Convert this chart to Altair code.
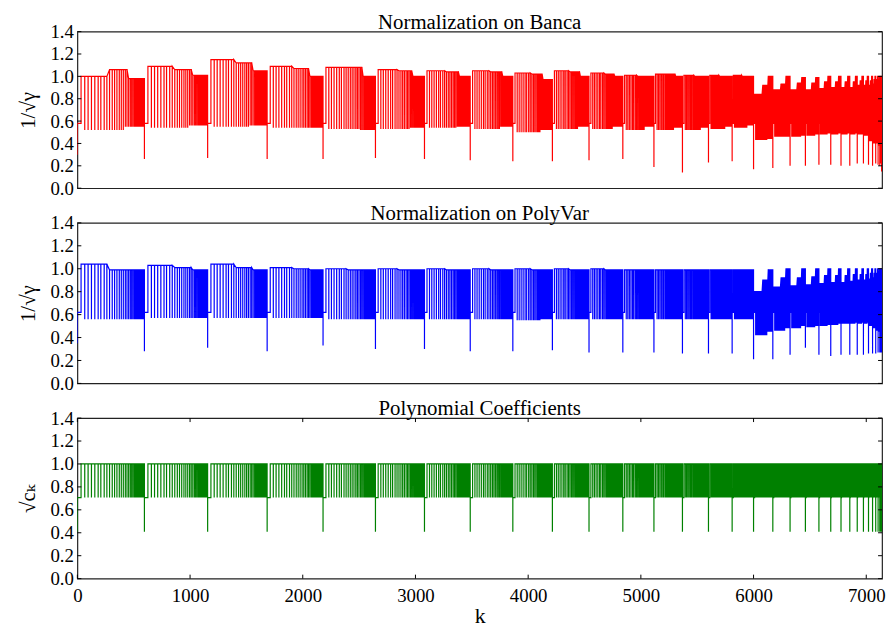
import altair as alt
import pandas as pd

FONT = "Liberation Serif, Times New Roman, DejaVu Serif, serif"
K_MAX = 7140

# k positions where each block starts (deep dips)
block_start = [0, 595, 1156, 1684, 2180, 2645, 3080, 3486, 3864, 4215, 4540,
               4840, 5116, 5369, 5600, 5810, 6000, 6171, 6324, 6460, 6580,
               6685, 6776, 6854, 6920, 6975, 7020, 7056, 7084, 7105, 7120,
               7130, 7136]

# relative positions of the downward spikes inside a block (read from block 1)
run_frac = 0.055
spike_frac = [0.11, 0.16, 0.21, 0.26, 0.31, 0.35, 0.40, 0.44, 0.48, 0.52,
              0.555, 0.59, 0.625, 0.655, 0.685, 0.715, 0.74, 0.765, 0.79,
              0.81, 0.83, 0.85, 0.865, 0.88, 0.895, 0.905, 0.915, 0.925,
              0.935, 0.945, 0.955, 0.965, 0.975, 0.985, 0.993]

# ---- Banca (red) ----
red_dip = [0.30, 0.26, 0.27, 0.26, 0.26, 0.27, 0.26, 0.25, 0.24, 0.24, 0.25,
           0.26, 0.19, 0.14, 0.23, 0.24, 0.17, 0.18, 0.20, 0.20, 0.21, 0.21,
           0.20, 0.20, 0.22, 0.22, 0.21, 0.20, 0.22, 0.21, 0.20, 0.22, 0.15]
red_top_early = [1.00, 1.09, 1.15, 1.09, 1.08, 1.06, 1.05, 1.05, 1.03, 1.05,
                 1.03, 1.01, 1.02, 1.01, 1.01, 1.01, 0.84, 0.88, 0.88, 0.88,
                 0.89, 0.90, 0.90, 0.90, 0.92, 0.92, 0.92, 0.93, 0.93, 0.94,
                 0.94, 0.95, 0.95]
red_top_mid = [1.06, 1.06, 1.12, 1.07, 1.08, 1.05, 1.04, 1.04, 1.02, 1.04,
               1.02, 1.00, 1.02, 1.00, 1.00, 1.00, 0.92, 0.93, 0.94, 0.94,
               0.95, 0.95, 0.95, 0.95, 0.96, 0.96, 0.96, 0.97, 0.97, 0.97,
               0.97, 0.97, 0.97]
red_top_late = [0.98, 1.01, 1.05, 1.00, 1.00, 1.00, 1.00, 1.00, 0.97, 1.00,
                1.00, 1.00, 1.00, 1.00, 1.00, 1.00, 1.00, 1.00, 0.99, 0.99,
                1.00, 1.00, 1.00, 1.00, 1.00, 1.00, 1.00, 1.00, 1.00, 1.00,
                1.00, 1.00, 1.00]
red_low_sparse = [0.52, 0.54, 0.55, 0.54, 0.53, 0.53, 0.54, 0.53, 0.50, 0.53,
                  0.53, 0.52, 0.52, 0.52, 0.53, 0.54, 0.43, 0.46, 0.46, 0.47,
                  0.48, 0.48, 0.48, 0.48, 0.48, 0.47, 0.42, 0.40, 0.40, 0.38,
                  0.38, 0.36, 0.35]
red_low_dense = [0.55, 0.56, 0.56, 0.54, 0.52, 0.54, 0.55, 0.55, 0.52, 0.55,
                 0.55, 0.55, 0.54, 0.54, 0.55, 0.56, 0.44, 0.46, 0.47, 0.48,
                 0.49, 0.49, 0.49, 0.49, 0.48, 0.47, 0.42, 0.40, 0.40, 0.38,
                 0.38, 0.36, 0.35]
red_run = 0.58
red_band = 0.14

# ---- PolyVar (blue) ----
blue_dip = [0.35, 0.28, 0.31, 0.28, 0.33, 0.30, 0.30, 0.28, 0.28, 0.29, 0.27,
            0.27, 0.27, 0.26, 0.26, 0.26, 0.21, 0.21, 0.25, 0.31, 0.25, 0.24,
            0.25, 0.25, 0.25, 0.25, 0.26, 0.26, 0.26, 0.27, 0.27, 0.27, 0.27]
blue_top_early = [1.04, 1.03, 1.04, 1.01, 1.00, 1.00, 1.00, 1.00, 1.00, 1.00,
                  1.00, 0.99, 0.99, 0.99, 0.99, 0.99, 0.80, 0.84, 0.85, 0.86,
                  0.87, 0.88, 0.88, 0.89, 0.90, 0.90, 0.91, 0.92, 0.92, 0.93,
                  0.93, 0.94, 0.94]
blue_top_mid = [0.99, 1.01, 1.01, 1.00, 0.99, 0.99, 0.99, 0.99, 0.99, 0.99,
                0.99, 0.99, 0.99, 0.99, 0.99, 0.99, 0.90, 0.92, 0.92, 0.93,
                0.94, 0.94, 0.94, 0.95, 0.95, 0.95, 0.96, 0.96, 0.96, 0.97,
                0.97, 0.97, 0.97]
blue_top_late = [0.99, 0.99, 0.99, 0.99, 0.99, 0.99, 0.99, 0.99, 0.99, 0.99,
                 0.99, 0.99, 0.99, 0.99, 0.99, 0.99, 0.99, 1.00, 1.00, 1.00,
                 1.00, 1.00, 1.00, 1.00, 1.00, 1.00, 1.00, 1.00, 1.00, 1.00,
                 1.00, 1.00, 1.00]
blue_low_sparse = [0.56, 0.57, 0.57, 0.57, 0.56, 0.56, 0.56, 0.56, 0.55, 0.56,
                   0.56, 0.56, 0.56, 0.56, 0.56, 0.56, 0.42, 0.46, 0.48, 0.49,
                   0.50, 0.51, 0.52, 0.52, 0.52, 0.52, 0.50, 0.48, 0.46, 0.45,
                   0.45, 0.44, 0.44]
blue_low_dense = [0.56, 0.57, 0.57, 0.57, 0.56, 0.56, 0.56, 0.56, 0.56, 0.56,
                  0.56, 0.56, 0.56, 0.56, 0.56, 0.56, 0.45, 0.48, 0.50, 0.50,
                  0.51, 0.52, 0.52, 0.53, 0.53, 0.53, 0.50, 0.48, 0.46, 0.45,
                  0.45, 0.44, 0.44]
blue_run = 0.62
blue_band = 0.08

# ---- Polynomial coefficients (green) ----
green_dip = [0.408] * len(block_start)
green_top = [1.0] * len(block_start)
green_low = [0.707] * len(block_start)
green_run = 0.707

y_ticks = [0.0, 0.2, 0.4, 0.6, 0.8, 1.0, 1.2, 1.4]
x_ticks = [0, 1000, 2000, 3000, 4000, 5000, 6000, 7000]

W = 812
SEG_EDGES = [0.45, 0.75]
D = 0.3


def build(dip, top_a, top_b, top_c, low_a, low_c, run, band_w):
    pts, band = [], []
    n = 0
    nb = 0
    for b, s in enumerate(block_start):
        e = block_start[b + 1] if b + 1 < len(block_start) else K_MAX
        size = e - s
        r = s + run_frac * size
        tops = [top_a[b], top_b[b], top_c[b]]
        pts.append((n, s, dip[b])); n += 1
        pts.append((n, s + D * 0.5, run)); n += 1
        pts.append((n, r, run)); n += 1
        pts.append((n, r + D * 0.5, tops[0])); n += 1
        for f in spike_frac:
            t = tops[0] if f < SEG_EDGES[0] else (tops[1] if f < SEG_EDGES[1] else tops[2])
            lo = low_a[b] if f < 0.7 else low_c[b]
            p = s + f * size
            pts.append((n, p - D, t)); n += 1
            pts.append((n, p, lo)); n += 1
            pts.append((n, p + D, t)); n += 1
        pts.append((n, e - D, tops[2])); n += 1
        if band_w > 0:
            edges = [r, s + SEG_EDGES[0] * size, s + SEG_EDGES[1] * size, e]
            for j in range(3):
                band.append((nb, b, edges[j], tops[j], tops[j] - band_w)); nb += 1
                band.append((nb, b, edges[j + 1], tops[j], tops[j] - band_w)); nb += 1
    line_df = pd.DataFrame(pts, columns=["i", "k", "y"])
    band_df = pd.DataFrame(band, columns=["i", "blk", "k", "y", "y_lo"])
    return line_df, band_df


xscale = alt.Scale(domain=[0, K_MAX], nice=False, zero=False)
yscale = alt.Scale(domain=[0, 1.4], nice=False, zero=False)


def panel(title, ytitle, color, line_df, band_df, bottom, H):
    if bottom:
        xaxis = alt.Axis(values=x_ticks, format="d", ticks=False, domain=False,
                         grid=False, labelPadding=8, title="k", titlePadding=0,
                         titleFontSize=22, titleFont=FONT, titleFontWeight="normal",
                         labelFontSize=19, labelFont=FONT, labelColor="black",
                         titleColor="black", labelFlush=False)
    else:
        xaxis = None
    yaxis = alt.Axis(values=y_ticks, format=".1f", ticks=False, domain=False,
                     grid=False, labelPadding=4, title=ytitle, titlePadding=12,
                     titleFontSize=21, titleFont=FONT, titleFontWeight="normal",
                     labelFontSize=19, labelFont=FONT, labelColor="black",
                     titleColor="black")
    X = lambda: alt.X("k:Q", scale=xscale, axis=xaxis)
    Y = lambda: alt.Y("y:Q", scale=yscale, axis=yaxis)
    layers = []
    if len(band_df):
        layers.append(
            alt.Chart(band_df).mark_area(color=color, opacity=1, clip=True).encode(
                x=X(), y=Y(), y2="y_lo:Q", detail="blk:N", order="i:Q",
            )
        )
    layers.append(
        alt.Chart(line_df).mark_line(color=color, strokeWidth=1.2, clip=True).encode(
            x=X(), y=Y(), order="i:Q",
        )
    )
    ytick_df = pd.DataFrame({"y": y_ticks})
    layers.append(alt.Chart(ytick_df).mark_rule(color="black", strokeWidth=1).encode(
        y=Y(), x=alt.value(0), x2=alt.value(4)))
    layers.append(alt.Chart(ytick_df).mark_rule(color="black", strokeWidth=1).encode(
        y=Y(), x=alt.value(W - 4), x2=alt.value(W)))
    if bottom:
        xtick_df = pd.DataFrame({"k": x_ticks})
        layers.append(alt.Chart(xtick_df).mark_rule(color="black", strokeWidth=1).encode(
            x=X(), y=alt.value(H), y2=alt.value(H - 4)))
        layers.append(alt.Chart(xtick_df).mark_rule(color="black", strokeWidth=1).encode(
            x=X(), y=alt.value(0), y2=alt.value(4)))
    return alt.layer(*layers).properties(
        width=W, height=H,
        title=alt.TitleParams(title, font=FONT, fontSize=21, fontWeight="normal",
                              color="black", anchor="middle", frame="group", offset=-10),
    )


r_line, r_band = build(red_dip, red_top_early, red_top_mid, red_top_late,
                       red_low_sparse, red_low_dense, red_run, red_band)
b_line, b_band = build(blue_dip, blue_top_early, blue_top_mid, blue_top_late,
                       blue_low_sparse, blue_low_dense, blue_run, blue_band)
g_line, g_band = build(green_dip, green_top, green_top, green_top,
                       green_low, green_low, green_run, 0)

chart = alt.vconcat(
    panel("Normalization on Banca", "1/√γ", "#ff0000", r_line, r_band, False, 158),
    panel("Normalization on PolyVar", "1/√γ", "#0000ff", b_line, b_band, False, 162),
    panel("Polynomial Coefficients", "√cₖ", "#008000", g_line, g_band, True, 162),
    spacing=3,
    padding={"left": 8, "top": 0, "right": 0, "bottom": 0},
    background="white",
).configure_view(
    stroke="#222222", strokeWidth=1.2,
)

chart.save("out.html", embed_options={"renderer": "svg", "actions": False})
